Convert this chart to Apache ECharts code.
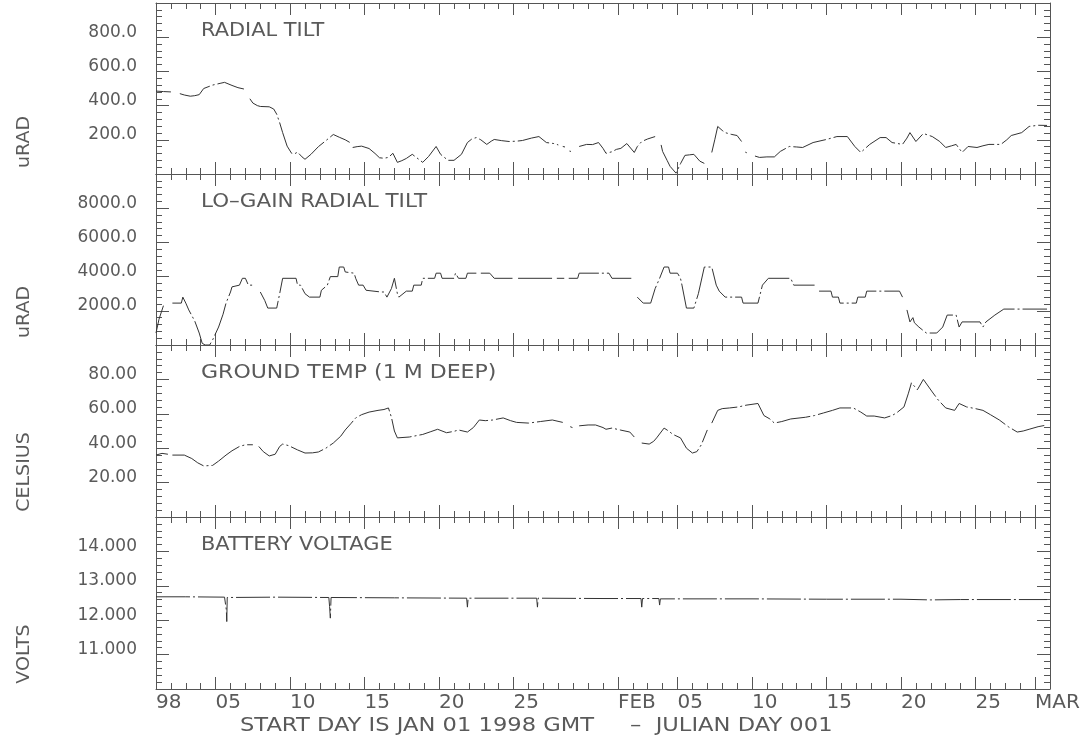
<!DOCTYPE html>
<html><head><meta charset="utf-8">
<script src="https://cdn.jsdelivr.net/npm/echarts@6/dist/echarts.min.js"></script>
<style>html,body{margin:0;padding:0;background:#fff}#c{width:1087px;height:739px}</style>
</head><body><div id="c"></div>
<script>
// ---- DATA (day since JAN 01 1998 00:00 GMT, value); '-' marks a data gap ----
const dayTicks  = [0,4,9,14,19,24,31,35,40,45,50,55,59];
const dayLabels = ['98','05','10','15','20','25','FEB','05','10','15','20','25','MAR'];

const radialTilt = [[0,485],[0.5,482],[1.0,480],[1.3,'-'],[1.6,470],[1.9,462],[2.3,455],[2.6,458],[2.9,464],[3.2,500],[3.8,520],[4.3,530],[4.6,536],[5.1,518],[5.5,505],[5.9,497],[6.1,'-'],[6.3,440],[6.5,415],[6.8,400],[7.0,395],[7.6,393],[7.9,380],[8.1,350],[8.3,300],[8.5,242],[8.8,163],[9.1,121],[9.3,118],[9.5,128],[9.8,100],[10.0,86],[10.4,115],[10.9,160],[11.4,195],[11.9,231],[12.3,215],[12.7,200],[13.0,185],[13.1,'-'],[13.2,155],[13.5,160],[13.8,163],[14.3,149],[14.7,120],[15.0,95],[15.3,92],[15.6,97],[15.9,121],[16.2,68],[16.5,78],[16.8,91],[17.2,115],[17.5,95],[17.9,68],[18.3,103],[18.8,161],[19.1,115],[19.6,80],[20.0,80],[20.5,115],[20.9,184],[21.2,205],[21.5,213],[21.8,200],[22.2,173],[22.5,192],[22.7,202],[23.2,195],[23.7,190],[24.2,192],[24.6,196],[25.2,210],[25.7,219],[26.2,184],[26.7,178],[27.0,170],[27.15,'-'],[27.3,161],[27.45,158],[27.6,'-'],[27.75,134],[27.85,132],[28.1,'-'],[28.4,161],[28.9,173],[29.3,172],[29.7,184],[30.0,150],[30.2,121],[30.6,130],[30.9,144],[31.2,150],[31.6,178],[32.1,126],[32.3,160],[32.6,190],[33.0,205],[33.5,219],[33.7,'-'],[33.9,170],[34.0,132],[34.3,80],[34.5,45],[34.9,5],[35.2,60],[35.5,109],[35.8,112],[36.1,115],[36.5,75],[36.8,62],[37.0,'-'],[37.3,126],[37.5,200],[37.7,278],[38.0,255],[38.2,242],[38.6,232],[39.0,225],[39.3,190],[39.45,'-'],[39.55,128],[39.65,124],[39.9,'-'],[40.2,105],[40.5,97],[41.0,100],[41.5,100],[41.9,132],[42.5,161],[43.0,158],[43.4,155],[44.1,184],[45.0,202],[45.7,219],[46.4,219],[46.9,161],[47.3,126],[47.9,173],[48.6,213],[49.0,213],[49.4,184],[50.1,173],[50.4,210],[50.6,242],[51.0,190],[51.5,237],[52.1,219],[52.6,190],[53.0,155],[53.4,165],[53.7,173],[54.1,126],[54.5,161],[55.1,155],[55.5,165],[55.9,173],[56.7,173],[57.1,200],[57.4,225],[58.1,242],[58.6,278],[59.2,285],[59.8,284]];

const loGainTilt = [[0,700],[0.2,1500],[0.5,2300],[0.8,'-'],[1.1,2450],[1.7,2450],[1.8,2800],[2.0,2450],[2.2,2050],[2.6,1400],[2.9,700],[3.1,100],[3.3,0],[3.6,0],[3.8,300],[4.2,1050],[4.5,1800],[4.7,2450],[5.0,3100],[5.1,3400],[5.6,3500],[5.8,3900],[6.0,3900],[6.2,3500],[6.5,3500],[6.75,'-'],[7.0,3100],[7.3,2600],[7.5,2160],[8.1,2160],[8.3,3000],[8.5,3900],[9.4,3900],[9.5,3500],[9.7,3500],[10.0,3000],[10.3,2800],[11.0,2800],[11.1,3200],[11.5,3500],[11.7,4000],[12.2,4000],[12.3,4560],[12.6,4560],[12.7,4270],[13.3,4200],[13.4,3900],[13.6,3500],[13.9,3500],[14.1,3200],[15.1,3100],[15.3,3100],[15.5,2800],[15.8,3300],[16.0,3900],[16.2,3000],[16.3,2800],[16.8,3150],[17.2,3150],[17.3,3500],[17.8,3500],[17.9,3900],[18.7,3900],[18.8,4200],[19.1,4200],[19.2,3900],[20.0,3900],[20.1,4200],[20.3,3900],[20.8,3900],[20.9,4200],[21.5,4200],[21.65,'-'],[21.8,4200],[22.4,4200],[22.7,3900],[24.0,3900],[24.1,'-'],[24.3,3900],[26.6,3900],[26.75,'-'],[26.9,3900],[27.4,3900],[27.55,'-'],[27.7,3900],[28.3,3900],[28.4,4200],[30.4,4200],[30.6,3900],[31.9,3900],[32.1,'-'],[32.3,2800],[32.7,2450],[33.2,2450],[33.5,3300],[33.8,3900],[34.1,4560],[34.4,4560],[34.5,4200],[35.0,4200],[35.2,3900],[35.3,3500],[35.6,2160],[36.1,2160],[36.4,3000],[36.8,4560],[37.3,4560],[37.6,3500],[37.8,3150],[38.2,2800],[39.3,2800],[39.4,2450],[40.4,2450],[40.7,3500],[41.1,3900],[42.6,3900],[42.8,3500],[44.2,3500],[44.35,'-'],[44.5,3150],[45.3,3150],[45.4,2800],[45.8,2800],[45.9,2450],[47.0,2450],[47.1,2800],[47.6,2800],[47.7,3150],[49.9,3150],[50.1,2800],[50.25,'-'],[50.4,2050],[50.6,1350],[50.8,1600],[50.9,1300],[51.2,1050],[51.7,700],[52.4,700],[52.8,1050],[53.1,1750],[53.7,1750],[53.9,1050],[54.1,1350],[55.3,1350],[55.5,1050],[55.7,1350],[56.3,1750],[56.9,2100],[59.8,2100]];

const groundTemp = [[0,36],[0.4,37],[0.8,36.5],[0.95,'-'],[1.1,36],[1.9,36],[2.4,34],[2.8,31.5],[3.2,29.7],[3.8,30],[4.2,32.5],[4.7,36],[5.1,38.5],[5.6,41],[6.0,42],[6.5,42],[6.7,'-'],[6.9,41],[7.2,38],[7.6,35.5],[8.0,36.5],[8.3,41],[8.5,42.4],[8.9,41.5],[9.5,39],[10.0,37.2],[10.5,37.3],[10.9,37.8],[11.4,40],[11.9,43],[12.4,47],[12.7,50.6],[13.1,54.5],[13.4,57.6],[13.8,59.5],[14.3,61],[14.9,62],[15.3,62.5],[15.6,63.4],[15.8,58],[16.0,50],[16.2,46],[17.0,46.5],[17.9,48],[18.4,49.5],[18.9,51],[19.5,49],[20.0,49.8],[20.3,50.6],[20.9,49.4],[21.3,52],[21.7,56.4],[22.1,56],[22.6,56.4],[23.3,57.6],[23.8,56],[24.2,55],[25.0,54.6],[25.8,55.5],[26.6,56.4],[27.3,55],[27.5,'-'],[27.8,52.5],[27.95,52],[28.15,'-'],[28.4,53],[29.0,53.5],[29.5,53.5],[30.0,52],[30.2,51],[30.6,51.7],[31.2,50.5],[31.8,49.4],[32.1,46.5],[32.3,'-'],[32.6,43],[33.1,42.4],[33.4,44],[33.6,46],[34.1,51.7],[34.4,50],[34.7,48],[35.2,46],[35.6,40],[36.0,37.2],[36.3,38],[36.6,42],[37.0,50.6],[37.15,'-'],[37.3,54.6],[37.7,62],[38.0,63],[38.5,63.4],[39.1,64],[39.6,65],[40.0,65.5],[40.4,66],[40.8,59],[41.2,57],[41.5,54.6],[42.0,55.5],[42.6,57],[43.6,58],[44.2,59],[44.8,60.5],[45.4,62],[45.9,63.4],[46.8,63.4],[47.3,61],[47.7,58.7],[48.2,58.7],[48.9,57.6],[49.4,59],[49.7,60.5],[50.2,64],[50.5,72],[50.7,78],[51.1,74],[51.5,80],[52.1,72.7],[52.5,68],[53.0,63.4],[53.6,62],[53.9,66],[54.4,64],[55.0,63],[55.5,62],[56.0,59.5],[56.6,56.4],[57.2,52.5],[57.8,49.4],[58.2,50],[58.6,51],[59.2,52.5],[59.8,53.5]];

const batteryVoltage = [[0,12.68],[2.0,12.68],[4.6,12.67],[4.68,12.66],[4.72,12.3],[4.75,11.96],[4.78,12.66],[8.0,12.67],[11.6,12.66],[11.65,12.4],[11.7,12.06],[11.75,12.66],[16.0,12.65],[20.85,12.64],[20.9,12.38],[20.95,12.64],[25.55,12.64],[25.6,12.38],[25.65,12.64],[30.0,12.63],[32.55,12.63],[32.6,12.38],[32.65,12.63],[33.75,12.63],[33.8,12.44],[33.85,12.62],[40.0,12.62],[45.0,12.61],[50.0,12.61],[52.0,12.59],[54.0,12.60],[59.8,12.60]];

// ---- axis settings per panel ----
const panelTitles = ['RADIAL TILT','LO\u2013GAIN RADIAL TILT','GROUND TEMP (1 M DEEP)','BATTERY VOLTAGE'];
const panelUnits  = ['uRAD','uRAD','CELSIUS','VOLTS'];
const yMin = [0,0,0,10];
const yMax = [1000,10000,100,15];
const yStep = [200,2000,20,1];
const yDecimals = [1,1,2,3];
const seriesData = [radialTilt, loGainTilt, groundTemp, batteryVoltage];

const gridTop = [3,174,345,517];
const gridH = [171,171,172,172];
const unitCenterY = [142,312,472,654];
const titleStretch = [1.1,1.13,1.16,1.1];

const AX = '#555', TXT = '#5a5a5a', LINE = '#333';
const FONT = 'DejaVu Sans';

const grid = [], xAxis = [], yAxis = [], series = [], graphic = [];
for (let i = 0; i < 4; i++) {
  grid.push({left:156, right:37, top:gridTop[i], height:gridH[i], containLabel:false});
  ['bottom','top'].forEach(pos => {
    xAxis.push({gridIndex:i, type:'value', min:0, max:60, interval:1, position:pos,
      axisLine:{show:true, onZero:false, lineStyle:{color:AX, width:1}},
      axisTick:{show:true, inside:true, length:6, lineStyle:{color:AX}},
      axisLabel:{show:false}, splitLine:{show:false}});
    const showLab = (pos === 'bottom' && i === 3);
    xAxis.push({gridIndex:i, type:'value', min:0, max:60, position:pos,
      axisLine:{show:false, onZero:false},
      axisTick:{show:true, inside:true, length:12, customValues:dayTicks, lineStyle:{color:AX}},
      axisLabel:{show:showLab, customValues:dayTicks, align:'left', margin:4,
        color:TXT, fontFamily:FONT, fontSize:20,
        formatter: v => { const k = dayTicks.indexOf(Math.round(v)); return k >= 0 ? dayLabels[k] : ''; }},
      splitLine:{show:false}});
  });
  ['left','right'].forEach(pos => {
    yAxis.push({gridIndex:i, type:'value', min:yMin[i], max:yMax[i], interval:yStep[i], position:pos,
      axisLine:{show:true, onZero:false, lineStyle:{color:AX, width:1}},
      axisTick:{show:true, inside:true, length:13, lineStyle:{color:AX}},
      minorTick:{show:true, splitNumber:5, length:6, lineStyle:{color:AX}},
      axisLabel:{show:pos === 'left', showMinLabel:false, showMaxLabel:false, margin:19,
        verticalAlign:'bottom', lineHeight:10, color:TXT, fontFamily:FONT, fontSize:17,
        formatter: v => v.toFixed(yDecimals[i])},
      splitLine:{show:false}, minorSplitLine:{show:false}});
  });
  series.push({type:'line', xAxisIndex:i*4, yAxisIndex:i*2, data:seriesData[i],
    showSymbol:false, symbol:'none', connectNulls:false, silent:true,
    lineStyle:{color:LINE, width:1, type:[34,3,2,3]}});
  graphic.push({type:'text', x:201, y:gridTop[i]+28, scaleX:titleStretch[i], silent:true,
    style:{text:panelTitles[i], fill:TXT, font:'19px "DejaVu Sans"', align:'left', verticalAlign:'middle'}});
  graphic.push({type:'text', x:25, y:unitCenterY[i], rotation:Math.PI/2, scaleX:1.12, silent:true,
    style:{text:panelUnits[i], fill:TXT, font:'17px "DejaVu Sans"', align:'center', verticalAlign:'middle'}});
}
graphic.push({type:'text', x:240, y:726, scaleX:1.13, silent:true,
  style:{text:'START DAY IS JAN 01 1998 GMT     \u2013  JULIAN DAY 001', fill:TXT, font:'20px "DejaVu Sans"', align:'left', verticalAlign:'middle'}});

const chart = echarts.init(document.getElementById('c'), null, {renderer:'canvas'});
chart.setOption({animation:false, backgroundColor:'#fff', grid, xAxis, yAxis, series, graphic});
</script></body></html>
